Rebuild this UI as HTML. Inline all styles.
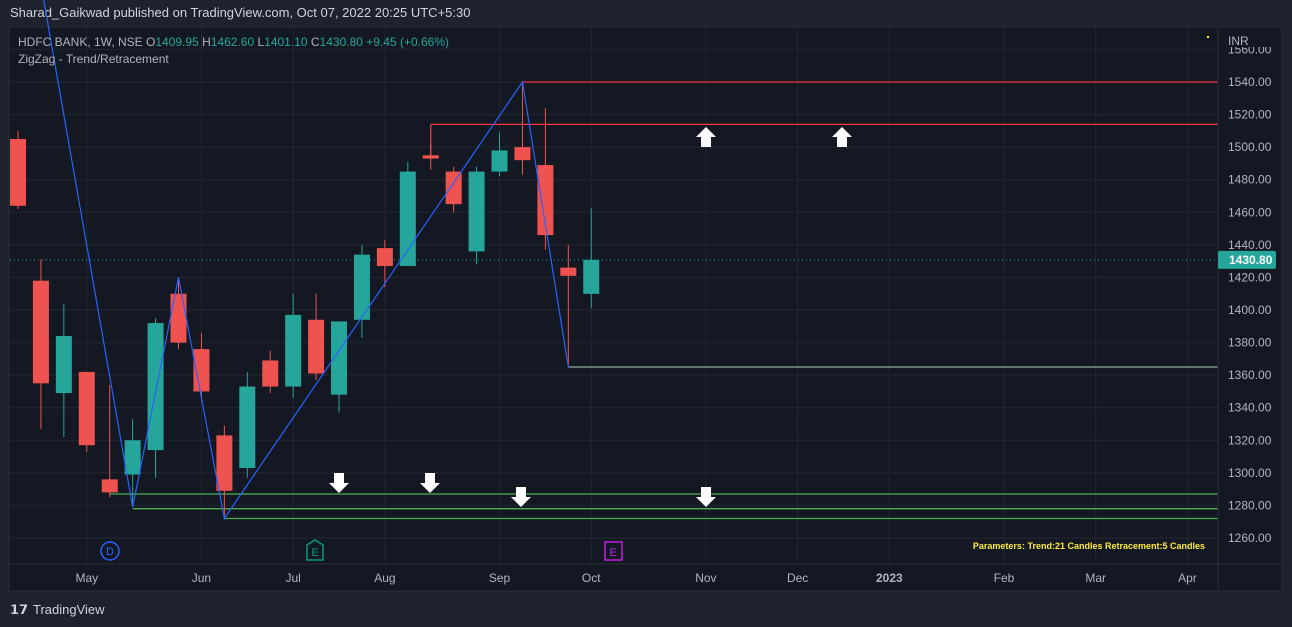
<!DOCTYPE html>
<html><head><meta charset="utf-8"><style>
body{margin:0;background:#1e222d;width:1292px;height:627px;overflow:hidden;font-family:"Liberation Sans",sans-serif}
svg{position:absolute;left:0;top:0}
</style></head><body>
<svg id="c" width="1292" height="627">
<rect x="0" y="0" width="1292" height="627" fill="#1e222d"/>
<text x="10" y="17" fill="#d1d4dc" font-size="13">Sharad_Gaikwad published on TradingView.com, Oct 07, 2022 20:25 UTC+5:30</text>
<rect x="9" y="27" width="1273" height="564" fill="#141823" stroke="#2a2e39"/>
<g id="grid"></g>
<g id="marks"></g>
<line x1="1218" y1="27" x2="1218" y2="591" stroke="#2a2e39"/>
<line x1="9" y1="564" x2="1282" y2="564" stroke="#2a2e39"/>
<rect x="1219" y="28" width="62" height="20" fill="#141823"/>
<text x="1228" y="45" fill="#b2b5be" font-size="12">INR</text>
<text x="18" y="46" font-size="12" fill="#b2b5be">HDFC BANK, 1W, NSE  O<tspan fill="#26a69a">1409.95</tspan>  H<tspan fill="#26a69a">1462.60</tspan>  L<tspan fill="#26a69a">1401.10</tspan>  C<tspan fill="#26a69a">1430.80</tspan>  <tspan fill="#26a69a">+9.45 (+0.66%)</tspan></text>
<text x="18" y="63" font-size="12" fill="#b2b5be">ZigZag - Trend/Retracement</text>
<rect x="1207" y="36" width="2" height="2" fill="#ffeb3b"/>
<text x="1205" y="549" font-size="9" font-weight="bold" fill="#ffeb3b" text-anchor="end">Parameters: Trend:21 Candles Retracement:5 Candles</text>
<g>
<text x="10" y="614" font-size="13" fill="#d1d4dc" font-weight="bold">𝟭𝟳</text>
<text x="33" y="614" font-size="13" fill="#d1d4dc">TradingView</text></g>
</svg>
<script>
const opens=[1505,1418,1349,1362,1296,1299,1314,1410,1376,1323,1303,1369,1353,1394,1348,1394,1438,1427,1495,1485,1436,1485,1500,1489,1426,1409.95];
const closes=[1464,1355,1384,1317,1288,1320,1392,1380,1350,1289,1353,1353,1397,1361,1393,1434,1427,1485,1493,1465,1485,1498,1492,1446,1421,1430.8];
const highs=[1510,1431,1404,1362,1354,1333,1395,1420,1386,1329,1362,1375,1410,1410,1393,1440,1443,1491,1502,1488,1488,1509,1540,1524,1440,1462.6];
const lows=[1462,1327,1322,1313,1285,1279,1297,1376,1344,1272,1297,1349,1346,1357,1337,1383,1414,1427,1486,1460,1428,1482,1483,1437,1365,1401.1];
const priceTicks=[1560,1540,1520,1500,1480,1460,1440,1420,1400,1380,1360,1340,1320,1300,1280,1260];
const monthLabels=["May","Jun","Jul","Aug","Sep","Oct","Nov","Dec","2023","Feb","Mar","Apr"];
const monthIdx=[3,8,12,16,21,25,30,34,38,43,47,51];
const zigIdx=[1,5,7,9,22,24];
const zigPrice=[1600,1279,1420,1272,1540,1365];
const lastClose=1430.8;
const NS="http://www.w3.org/2000/svg";
const y=p=>82+(1540-p)*1.6286;
const x=i=>18+i*22.93;
function mk(t,a,parent){const e=document.createElementNS(NS,t);for(const k in a)e.setAttribute(k,a[k]);parent.appendChild(e);return e;}
const G=document.getElementById('grid'),M=document.getElementById('marks'),S=document.getElementById('c');
priceTicks.forEach(p=>{
 const l=mk('line',{x1:10,x2:1218,y1:y(p),y2:y(p),stroke:'#232733'},G);
 
 
 const t=mk('text',{x:1228,y:y(p)+4,fill:'#b2b5be','font-size':12},S);
 t.textContent=p.toFixed(2);
 
 
});
monthLabels.forEach((m,k)=>{
 const xx=x(monthIdx[k]);
 const l=mk('line',{x1:xx,x2:xx,y1:28,y2:564,stroke:'#232733'},G);
 
 
 const t=mk('text',{x:xx,y:582,fill:'#b2b5be','font-size':12,'text-anchor':'middle','font-weight':m==='2023'?'bold':'normal'},S);
 t.textContent=m;
 
 
});
// last price line
const lp=mk('line',{x1:10,x2:1218,y1:y(lastClose),y2:y(lastClose),stroke:'#26a69a','stroke-dasharray':'1 3'},M);


// horizontal levels
function hl(i,p,c,name){const l=mk('line',{x1:x(i),x2:1218,y1:y(p),y2:y(p),stroke:c,'stroke-width':1.3},M);
 
 }
hl(22,1540,'#f23645','resistance-line-1');
hl(18,1514,'#f23645','resistance-line-2');
mk('line',{x1:x(18),x2:x(18),y1:y(1514),y2:y(1495),stroke:'#f23645','stroke-width':1.3},M);
hl(24,1365,'#8fa8a0','support-line-gray');
hl(4,1287,'#4caf50','support-line-1');
hl(5,1278,'#4caf50','support-line-2');
hl(9,1272,'#4caf50','support-line-3');
// candles
opens.forEach((o,i)=>{
 const c=closes[i],up=c>=o,col=up?'#26a69a':'#ef5350',xx=x(i);
 const w=mk('line',{x1:xx,x2:xx,y1:y(highs[i]),y2:y(lows[i]),stroke:col},M);
 
 
 const top=y(Math.max(o,c)),h=Math.max(2,Math.abs(y(o)-y(c)));
 const b=mk('rect',{x:xx-8,y:top,width:16,height:h,fill:col},M);
 
 
});
// zigzag
const zz=mk('polyline',{points:zigIdx.map((i,k)=>x(i)+','+y(zigPrice[k])).join(' '),fill:'none',stroke:'#2962ff','stroke-width':1.2},M);


// arrows
function arrow(cx,cy,up){const d=up?`M${cx},${cy-10} L${cx+10},${cy} L${cx+5},${cy} L${cx+5},${cy+10} L${cx-5},${cy+10} L${cx-5},${cy} L${cx-10},${cy} Z`:`M${cx},${cy+10} L${cx+10},${cy} L${cx+5},${cy} L${cx+5},${cy-10} L${cx-5},${cy-10} L${cx-5},${cy} L${cx-10},${cy} Z`;
 const a=mk('path',{d,fill:'#fff'},M);
 
 }
arrow(706,137,true);arrow(842,137,true);
arrow(339,483,false);arrow(430,483,false);arrow(521,497,false);arrow(706,497,false);
// event markers
const d=mk('circle',{cx:110,cy:551,r:9,fill:'none',stroke:'#2962ff','stroke-width':1.5},S);


const dt=mk('text',{x:110,y:555,fill:'#2962ff','font-size':11,'text-anchor':'middle'},S);dt.textContent='D';
const e1=mk('path',{d:'M307,545 L315,540 L323,545 L323,560 L307,560 Z',fill:'none',stroke:'#089981','stroke-width':1.5},S);


const e1t=mk('text',{x:315,y:556,fill:'#089981','font-size':11,'text-anchor':'middle'},S);e1t.textContent='E';
const e2=mk('rect',{x:605,y:542,width:17,height:18,fill:'none',stroke:'#c020e0','stroke-width':1.5},S);


const e2t=mk('text',{x:613,y:556,fill:'#c020e0','font-size':11,'text-anchor':'middle'},S);e2t.textContent='E';
// last price label
const lb=mk('rect',{x:1218,y:y(lastClose)-9,width:58,height:18,fill:'#26a69a',rx:2},S);


const lt=mk('text',{x:1229,y:y(lastClose)+4,fill:'#fff','font-size':12,'font-weight':'bold'},S);lt.textContent=lastClose.toFixed(2);
// cover top of scale to clip 1560 label like reference
const cv=mk('rect',{x:1219,y:28,width:62,height:19,fill:'#141823'},S);
const inr=mk('text',{x:1228,y:45,fill:'#b2b5be','font-size':12},S);inr.textContent='INR';
</script>
</body></html>
